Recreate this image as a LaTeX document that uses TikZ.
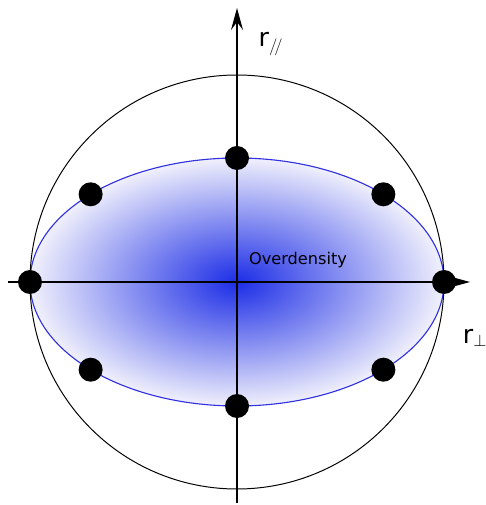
\documentclass[tikz,border=0pt]{standalone}
\usepackage{fontspec}
\setmainfont{DejaVu Sans}
\usetikzlibrary{arrows.meta}

\definecolor{odcore}{RGB}{28,45,230}
\definecolor{odrim}{RGB}{240,240,252}
\definecolor{odline}{RGB}{50,50,225}
\pgfdeclareradialshading{overdens}{\pgfpoint{0bp}{0bp}}{color(0bp)=(odcore); color(25bp)=(odrim); color(50bp)=(white)}

\tikzset{
    dot/.style={circle, fill=black, minimum size=0.6cm, inner sep=0pt},
    axis/.style={line width=1pt, -{Stealth[length=5.5mm, width=3mm, inset=2mm]}},
    lbl/.style={font=\fontsize{18}{20}\selectfont}
}

\begin{document}
\begin{tikzpicture}
            \useasboundingbox (-5.925,-5.575) rectangle (6.2,7.05);

            % Shaded overdensity
            \shade[shading=overdens] (0,0) ellipse (5.175 and 3.1);
            \draw[odline, line width=0.8pt] (0,0) ellipse (5.175 and 3.1);

            % Outer circle
            \draw[line width=0.7pt] (0,0) circle (5.175);

            % Axes
            \coordinate (xl) at (-5.725,0);
            \coordinate (xr) at (5.825,0);
            \coordinate (yb) at (0,-5.525);
            \coordinate (yt) at (0,6.85);
            \draw[axis] (xl) -- (xr);
            \draw[axis] (yb) -- (yt);

            % Labels
            \node[lbl] (rpar) at (0.85,5.95) {r$_{/\!/}$};
            \node[lbl] (rperp) at (5.95,-1.4) {r$_{\perp}$};
            \node[font=\fontsize{11.5}{13}\selectfont] (over) at (1.525,0.55) {Overdensity};

            % Dots on the ellipse
            \foreach \a in {0,45,...,315}
                \node[dot] (d\a) at ({5.175*cos(\a)},{3.1*sin(\a)}) {};
\end{tikzpicture}
\end{document}
